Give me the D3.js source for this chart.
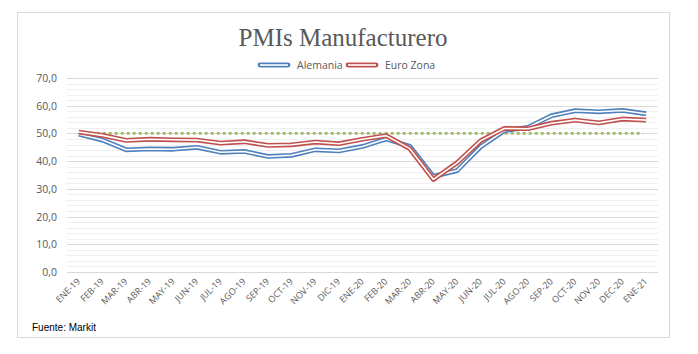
<!DOCTYPE html>
<html>
<head>
<meta charset="utf-8">
<script src="https://cdnjs.cloudflare.com/ajax/libs/d3/7.8.5/d3.min.js"></script>
<style>
  body { margin: 0; background: #fff; }
  svg { display: block; }
</style>
</head>
<body>
<svg id="chart" width="698" height="354"></svg>
<script>
let months = ["ENE-19","FEB-19","MAR-19","ABR-19","MAY-19","JUN-19","JUL-19","AGO-19","SEP-19","OCT-19","NOV-19","DIC-19",
  "ENE-20","FEB-20","MAR-20","ABR-20","MAY-20","JUN-20","JUL-20","AGO-20","SEP-20","OCT-20","NOV-20","DEC-20","ENE-21"];
let alemania = [49.7,47.6,44.1,44.4,44.3,45.0,43.2,43.5,41.7,42.1,44.1,43.7,
  45.3,48.0,45.4,34.5,36.6,45.2,51.0,52.2,56.4,58.2,57.8,58.3,57.1];
let euroZona = [50.5,49.3,47.5,47.9,47.7,47.6,46.5,47.0,45.7,45.9,46.9,46.3,
  47.9,49.2,44.5,33.4,39.4,47.4,51.8,51.7,53.7,54.8,53.8,55.2,54.8];
let threshold = 50;
let yTicks = [0,10,20,30,40,50,60,70];

let svg = d3.select("#chart");
let plotLeft = 67, plotRight = 658, plotTop = 78, plotBottom = 272;

// frame
svg.append("rect").attr("x", 17.5).attr("y", 12.5).attr("width", 652).attr("height", 325)
  .attr("fill", "#fff").attr("stroke", "#d9d9d9");

let x = d3.scalePoint().domain(months).range([plotLeft, plotRight]).padding(0.5);
let y = d3.scaleLinear().domain([0, 70]).range([plotBottom, plotTop]);

// gridlines
let minor = d3.range(0, 71, 2).filter(v => v % 10 != 0);
svg.append("g").selectAll("line").data(minor).join("line")
  .attr("x1", plotLeft).attr("x2", plotRight)
  .attr("y1", d => Math.round(y(d)) + 0.5).attr("y2", d => Math.round(y(d)) + 0.5)
  .attr("stroke", "#f0f0f0");
svg.append("g").selectAll("line").data(yTicks).join("line")
  .attr("x1", plotLeft).attr("x2", plotRight)
  .attr("y1", d => Math.round(y(d)) + 0.5).attr("y2", d => Math.round(y(d)) + 0.5)
  .attr("stroke", "#d9d9d9");

// y labels
svg.append("g").selectAll("text").data(yTicks).join("text")
  .attr("x", 57).attr("y", d => y(d) + 4)
  .attr("text-anchor", "end")
  .attr("font-family", "Open Sans, sans-serif").attr("font-size", 10.5)
  .attr("fill", "#595959")
  .text(d => d.toFixed(1).replace(".", ","));

// x labels
svg.append("g").selectAll("text").data(months).join("text")
  .attr("transform", d => `translate(${x(d) + 2},${plotBottom + 10}) rotate(-45)`)
  .attr("text-anchor", "end")
  .attr("font-family", "Open Sans, sans-serif").attr("font-size", 9)
  .attr("fill", "#595959")
  .text(d => d);

// threshold
svg.append("line")
  .attr("x1", x(months[0])).attr("x2", x(months[months.length - 1]) - 3)
  .attr("y1", y(threshold)).attr("y2", y(threshold))
  .attr("stroke", "#9bbb59").attr("stroke-width", 2.8)
  .attr("stroke-dasharray", "2.8 3.2");

function drawDouble(values, color) {
  let line = d3.line().x((d, i) => x(months[i])).y(d => y(d));
  svg.append("path").datum(values).attr("d", line)
    .attr("fill", "none").attr("stroke", color).attr("stroke-width", 4.8).attr("stroke-linejoin", "round");
  svg.append("path").datum(values).attr("d", line)
    .attr("fill", "none").attr("stroke", "#fff").attr("stroke-width", 1.6).attr("stroke-linejoin", "round");
}
drawDouble(alemania, "#4f81bd");
drawDouble(euroZona, "#c0504d");

// title
svg.append("text").attr("x", 343).attr("y", 46).attr("text-anchor", "middle")
  .attr("font-family", "Liberation Serif, serif").attr("font-size", 25)
  .attr("fill", "#595959").text("PMIs Manufacturero");

// legend
let legend = [["Alemania", "#4f81bd", 260], ["Euro Zona", "#c0504d", 348]];
legend.forEach(([name, color, lx]) => {
  svg.append("line").attr("x1", lx).attr("x2", lx + 28).attr("y1", 65).attr("y2", 65)
    .attr("stroke", color).attr("stroke-width", 4.8).attr("stroke-linecap", "round");
  svg.append("line").attr("x1", lx).attr("x2", lx + 28).attr("y1", 65).attr("y2", 65)
    .attr("stroke", "#fff").attr("stroke-width", 1.6);
  svg.append("text").attr("x", lx + 37).attr("y", 69)
    .attr("font-family", "Open Sans, sans-serif").attr("font-size", 10.5)
    .attr("fill", "#595959").text(name);
});

// source
svg.append("text").attr("x", 32).attr("y", 331)
  .attr("font-family", "Liberation Sans, Arial, sans-serif").attr("font-size", 10)
  .attr("fill", "#000").text("Fuente: Markit");
</script>
</body>
</html>
